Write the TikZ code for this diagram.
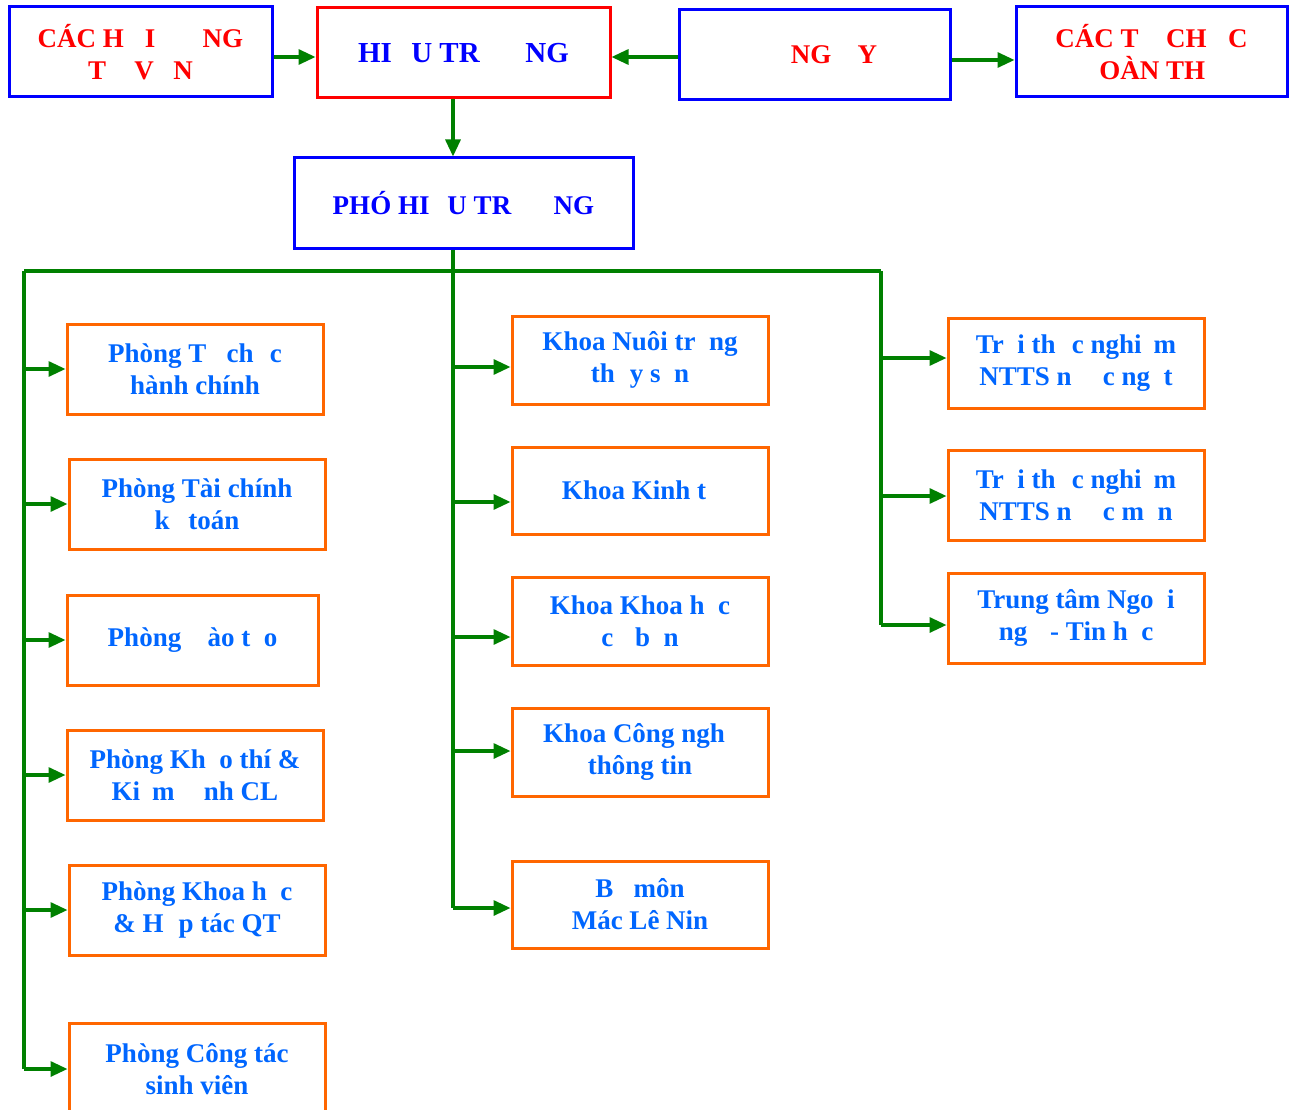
\documentclass[tikz,border=0pt]{standalone}
\usepackage{fontspec}
\setmainfont{Liberation Serif}
\usetikzlibrary{arrows.meta}
\definecolor{bdrblue}{HTML}{0000FF}
\definecolor{bdrred}{HTML}{FF0000}
\definecolor{bdrorange}{HTML}{FF6600}
\definecolor{txtred}{HTML}{FF0000}
\definecolor{txtblue}{HTML}{0000FF}
\definecolor{txtlight}{HTML}{0066FF}
\definecolor{lgreen}{HTML}{008000}
\newcommand{\gapof}[1]{\hphantom{#1}}
\tikzset{
  box/.style={draw, line width=3pt, minimum height=90pt, inner sep=0pt, align=center,
    font=\bfseries\fontsize{27}{32}\selectfont},
  topblue/.style={box, draw=bdrblue, text=txtred, minimum width=#1},
  headbox/.style={box, draw=bdrred, text=txtblue, minimum width=#1},
  vicebox/.style={box, draw=bdrblue, text=txtblue, minimum width=#1},
  unitbox/.style={box, draw=bdrorange, text=txtlight, minimum width=#1},
  arr/.style={draw=lgreen, line width=3.2pt, -{Triangle[length=17pt,width=15pt]}},
  busline/.style={draw=lgreen, line width=3.2pt},
}
\begin{document}
\begin{tikzpicture}[x=1pt,y=-1pt]
\useasboundingbox (0,0) rectangle (1295,1110);
\clip (0,0) rectangle (1295,1110);
% top row
\node[topblue=263pt] (A) at (140.5,52) {CÁC H\gapof{Ộ}I \gapof{ĐỒ}NG\\T\gapof{Ư} V\gapof{Ấ}N};
\node[headbox=293pt, font=\bfseries\fontsize{29}{34}\selectfont] (B) at (463.5,53) {HI\gapof{Ệ}U TR\gapof{ƯỞ}NG};
\node[topblue=271pt] (C) at (814.5,55) {\gapof{ĐẢ}NG \gapof{Ủ}Y};
\node[topblue=271pt] (D) at (1151.5,52) {CÁC T\gapof{Ổ} CH\gapof{Ứ}C\\\gapof{Đ}OÀN TH\gapof{Ể}};
\node[vicebox=339pt] (E) at (463.5,203) {PHÓ HI\gapof{Ệ}U TR\gapof{ƯỞ}NG};
% left column
\node[unitbox=256pt] (L1) at (195,369) {Phòng T\gapof{ổ} ch\gapof{ứ}c\\hành chính};
\node[unitbox=256pt] (L2) at (197,504) {Phòng Tài chính\\k\gapof{ế} toán};
\node[unitbox=251pt] (L3) at (192.5,640) {Phòng \gapof{Đ}ào t\gapof{ạ}o};
\node[unitbox=256pt] (L4) at (195,775) {Phòng Kh\gapof{ả}o thí \&\\Ki\gapof{ể}m \gapof{đị}nh CL};
\node[unitbox=256pt] (L5) at (197,910) {Phòng Khoa h\gapof{ọ}c\\\& H\gapof{ợ}p tác QT};
\node[unitbox=256pt, minimum height=92pt, text depth=0pt] (L6) at (197,1069) {Phòng Công tác\\sinh viên};
% middle column
\node[unitbox=256pt, minimum height=88pt] (M1) at (640,360) {Khoa Nuôi tr\gapof{ồ}ng\\th\gapof{ủ}y s\gapof{ả}n};
\node[unitbox=256pt, minimum height=87pt] (M2) at (640,490.5) {Khoa Kinh t\gapof{ế}};
\node[unitbox=256pt, minimum height=88pt] (M3) at (640,621) {Khoa Khoa h\gapof{ọ}c\\c\gapof{ơ} b\gapof{ả}n};
\node[unitbox=256pt, minimum height=88pt] (M4) at (640,752) {Khoa Công ngh\gapof{ệ}\\thông tin};
\node[unitbox=256pt, minimum height=87pt] (M5) at (640,904.5) {B\gapof{ộ} môn\\Mác Lê Nin};
% right column
\node[unitbox=256pt] (R1) at (1076,363) {Tr\gapof{ạ}i th\gapof{ự}c nghi\gapof{ệ}m\\NTTS n\gapof{ướ}c ng\gapof{ọ}t};
\node[unitbox=256pt] (R2) at (1076,495) {Tr\gapof{ạ}i th\gapof{ự}c nghi\gapof{ệ}m\\NTTS n\gapof{ướ}c m\gapof{ặ}n};
\node[unitbox=256pt] (R3) at (1076,618) {Trung tâm Ngo\gapof{ạ}i\\ng\gapof{ữ} - Tin h\gapof{ọ}c};
% bus coordinates
\coordinate (bus) at (453,271);
\coordinate (hl) at (24,271);
\coordinate (hr) at (881,271);
\coordinate (lbot) at (24,1069);
\coordinate (mbot) at (453,908);
\coordinate (rbot) at (881,625);
\coordinate (m1) at (453,367);
\coordinate (m2) at (453,502);
\coordinate (m3) at (453,637);
\coordinate (m4) at (453,751);
\coordinate (m5) at (453,908);
\coordinate (r1) at (881,358);
\coordinate (r2) at (881,496);
\coordinate (r3) at (881,625);
% top connectors
\draw[arr] ([yshift=-5pt]A.east) -- ([yshift=-5pt]A.east -| B.west);
\draw[arr] ([yshift=-2pt]C.west) -- ([yshift=-2pt]C.west -| B.east);
\draw[arr] ([yshift=-5pt]C.east) -- ([yshift=-5pt]C.east -| D.west);
\draw[arr] (bus |- B.south) -- (bus |- E.north);
% bus lines
\draw[busline] (bus |- E.south) -- (mbot);
\draw[busline] (hl) -- (hr);
\draw[busline] (hl) -- (lbot);
\draw[busline] (hr) -- (rbot);
% left branches
\foreach \n in {L1,L2,L3,L4,L5,L6}
  \draw[arr] (hl |- \n.west) -- (\n.west);
% middle branches
\draw[arr] (m1) -- (m1 -| M1.west);
\draw[arr] (m2) -- (m2 -| M2.west);
\draw[arr] (m3) -- (m3 -| M3.west);
\draw[arr] (m4) -- (m4 -| M4.west);
\draw[arr] (m5) -- (m5 -| M5.west);
% right branches
\draw[arr] (r1) -- (r1 -| R1.west);
\draw[arr] (r2) -- (r2 -| R2.west);
\draw[arr] (r3) -- (r3 -| R3.west);
\end{tikzpicture}
\end{document}
